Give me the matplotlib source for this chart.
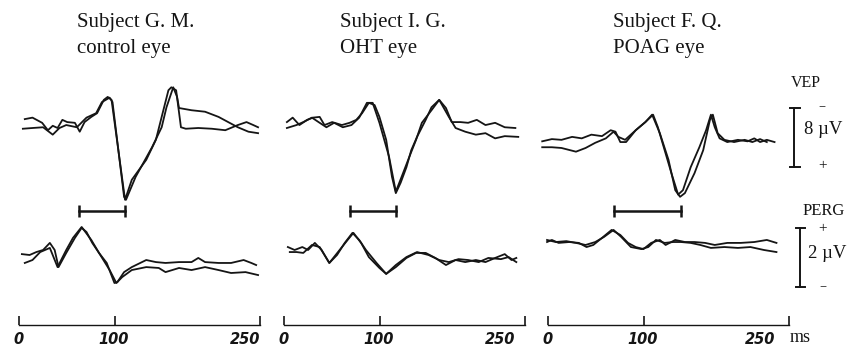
#!/usr/bin/env python3

# VEP and PERG traces for three subjects (two recordings each)
import numpy as np
import matplotlib
matplotlib.use('Agg')
import matplotlib.pyplot as plt

# subject labels
subjects = ['Subject G. M.', 'Subject I. G.', 'Subject F. Q.']
eyes = ['control eye', 'OHT eye', 'POAG eye']

# VEP traces, (ms, uV), negative is up
gm_vep_a = [(6, -1.2), (14, -1.4), (24, -0.7), (30, 0.3), (35, -0.3), (40, 0), (45, -1.1), (50, -0.8),
            (58, -0.7), (63, 0.5), (68, -0.8), (75, -1.5), (81, -2.0), (88, -3.8), (92, -4.2), (96, -3.8),
            (110, 9.7), (117, 7.0), (132, 4.3), (142, 1.6), (148, -1.5), (155, -5.1), (158, -5.5),
            (163, -5.1), (168, -0.1), (173, 0.1), (186, 0), (200, 0.1), (214, 0.3), (227, -0.4),
            (236, -0.8), (243, -0.4), (248, -0.1)]
gm_vep_b = [(4, 0.1), (14, 0), (25, -0.1), (35, 0.9), (42, 0), (49, -0.4), (60, -0.1), (70, -1.4),
            (80, -2.0), (86, -3.5), (94, -4.1), (97, -3.5), (109, 9.3), (111, 9.7), (121, 6.6),
            (138, 2.6), (148, -0.1), (153, -2.8), (160, -5.5), (164, -4.2), (166, -2.7), (179, -2.4),
            (193, -2.2), (207, -1.5), (217, -0.8), (227, -0.1), (238, 0.5), (248, 0.7)]
ig_vep_a = [(3, -0.8), (9, -1.4), (16, -0.4), (24, -1.1), (30, -1.4), (37, -1.5), (42, -0.4), (50, -0.8),
            (60, -0.4), (68, -0.7), (75, -1.1), (81, -2.0), (88, -3.4), (94, -3.1), (99, -1.5),
            (106, 1.6), (112, 6.6), (116, 8.8), (121, 7.4), (127, 5.3), (132, 3.0), (138, 1.2),
            (147, -1.1), (153, -2.8), (161, -3.8), (168, -2.7), (174, -0.8), (183, -0.8), (191, -0.7),
            (200, -1.1), (209, -0.4), (219, -0.7), (229, -0.1), (240, 0)]
ig_vep_b = [(3, 0), (13, -0.4), (20, -0.8), (29, -1.4), (37, -0.7), (44, -0.1), (52, -0.7), (61, -0.1),
            (70, -0.4), (78, -1.4), (86, -3.4), (92, -3.4), (99, -0.7), (109, 3.9), (116, 8.6),
            (122, 6.6), (130, 3.9), (137, 1.6), (143, -0.7), (153, -2.4), (161, -3.8), (171, -1.5),
            (178, 0), (188, 0.5), (199, 0.9), (209, 0.7), (219, 1.4), (229, 1.1), (243, 1.2)]
fq_vep_a = [(-6, 1.8), (4, 1.5), (14, 1.6), (25, 1.2), (35, 1.4), (45, 0.9), (56, 1.1), (65, 0.3),
            (70, 0.5), (75, 1.9), (81, 1.9), (91, 0.3), (101, -0.8), (109, -1.8), (114, -0.1),
            (121, 3.0), (128, 6.1), (135, 9.0), (140, 8.4), (148, 5.3), (157, 2.6), (164, 0.3),
            (169, -1.8), (173, -0.1), (178, 1.4), (186, 1.9), (197, 1.6), (207, 1.8), (214, 1.4),
            (220, 1.9), (227, 1.6), (235, 1.9)]
fq_vep_b = [(-6, 2.6), (4, 2.6), (14, 2.7), (29, 3.2), (39, 2.7), (49, 2.0), (60, 1.4), (68, 0.5),
            (73, 1.2), (80, 1.6), (91, 0.3), (101, -0.8), (108, -1.8), (116, 0.7), (125, 4.3),
            (132, 8.4), (137, 9.3), (142, 8.8), (152, 6.1), (161, 3.0), (168, -1.1), (171, -1.8),
            (176, 0.7), (183, 1.6), (193, 1.9), (204, 1.6), (212, 1.9), (220, 1.5), (227, 1.9)]

# PERG traces, (ms, uV), positive is up
gm_perg_a = [(3, 0.03), (11, 0), (18, 0.1), (25, 0.17), (32, 0.41), (37, 0.17), (41, -0.41), (49, 0.07),
             (58, 0.58), (65, 0.92), (70, 0.78), (76, 0.41), (83, 0.07), (91, -0.27), (99, -0.95),
             (102, -0.92), (109, -0.58), (117, -0.41), (132, -0.17), (142, -0.24), (152, -0.27),
             (166, -0.24), (179, -0.24), (186, -0.10), (193, -0.24), (207, -0.27), (220, -0.27),
             (233, -0.17), (241, -0.27), (246, -0.34)]
gm_perg_b = [(6, -0.27), (14, -0.17), (22, 0.1), (32, 0.24), (40, -0.41), (49, 0.17), (56, 0.58),
             (65, 0.95), (75, 0.51), (83, 0.07), (94, -0.51), (101, -0.95), (107, -0.75), (117, -0.51),
             (132, -0.41), (145, -0.44), (152, -0.58), (166, -0.44), (179, -0.51), (193, -0.41),
             (207, -0.51), (220, -0.61), (235, -0.58), (248, -0.68)]
ig_perg_a = [(4, 0.27), (11, 0.17), (19, 0.27), (25, 0.17), (32, 0.41), (39, 0.17), (47, -0.27), (55, 0),
             (63, 0.41), (71, 0.75), (78, 0.51), (85, 0.17), (96, -0.27), (106, -0.64), (116, -0.41),
             (127, -0.10), (137, 0.07), (147, 0.07), (157, -0.10), (168, -0.34), (178, -0.17),
             (188, -0.24), (199, -0.17), (209, -0.24), (219, -0.10), (229, 0.03), (236, -0.17),
             (241, -0.10)]
ig_perg_b = [(6, 0.10), (13, 0.10), (20, 0.07), (29, 0.34), (37, 0.27), (47, -0.27), (56, 0.10),
             (66, 0.51), (72, 0.75), (80, 0.41), (88, -0.07), (99, -0.44), (106, -0.64), (116, -0.34),
             (127, -0.07), (138, 0.10), (150, 0), (161, -0.17), (171, -0.24), (181, -0.14), (191, -0.17),
             (202, -0.24), (212, -0.10), (225, -0.14), (233, -0.07), (241, -0.24)]
fq_perg_a = [(-1, 0.44), (4, 0.51), (11, 0.41), (22, 0.44), (32, 0.41), (40, 0.27), (47, 0.34),
             (56, 0.58), (66, 0.85), (75, 0.68), (83, 0.41), (91, 0.27), (99, 0.20), (107, 0.41),
             (116, 0.51), (122, 0.34), (132, 0.51), (142, 0.44), (152, 0.44), (163, 0.41), (173, 0.34),
             (186, 0.41), (200, 0.41), (214, 0.44), (227, 0.51), (237, 0.41)]
fq_perg_b = [(-1, 0.51), (8, 0.44), (19, 0.47), (29, 0.41), (39, 0.34), (49, 0.44), (58, 0.61),
             (68, 0.85), (76, 0.61), (86, 0.27), (97, 0.20), (104, 0.27), (112, 0.51), (121, 0.41),
             (130, 0.44), (138, 0.44), (148, 0.41), (158, 0.34), (169, 0.24), (183, 0.27), (197, 0.24),
             (210, 0.27), (224, 0.17), (237, 0.10)]

vep_traces = [(gm_vep_a, gm_vep_b), (ig_vep_a, ig_vep_b), (fq_vep_a, fq_vep_b)]
perg_traces = [(gm_perg_a, gm_perg_b), (ig_perg_a, ig_perg_b), (fq_perg_a, fq_perg_b)]

# retinocortical time bars (ms): PERG P50 -> VEP P100
bar_start = [62, 68, 68]
bar_end = [110, 116, 138]

# time axis
time_ticks = [0, 100, 250]

# scale bars
vep_scale = 8   # uV
perg_scale = 2  # uV


def main():
    W, H = 849, 357
    fig = plt.figure(figsize=(W / 100, H / 100), dpi=100)

    def box(left, top, width, height):
        # pixel box -> figure fraction
        return [left / W, 1 - (top + height) / H, width / W, height / H]

    # layout in pixels
    panel_left = [19, 284, 548]
    title_left = [77, 340, 613]
    panel_w = 241
    vep_top, vep_h = 70, 145
    perg_top, perg_h = 215, 110
    # vertical scales (px per uV) and zero lines (px)
    vep_px, vep_zero = 7.4, 128
    perg_px, perg_zero = 29.5, 255

    serif = ['Liberation Serif', 'DejaVu Serif']
    ink = '#151515'
    vep_axes = []
    perg_axes = []

    for i in range(3):
        x0 = panel_left[i]
        ax_v = fig.add_axes(box(x0, vep_top, panel_w, vep_h))
        ax_p = fig.add_axes(box(x0, perg_top, panel_w, perg_h))
        ax_v.set_xlim(0, 250)
        ax_p.set_xlim(0, 250)
        # VEP: negative up
        ax_v.set_ylim((vep_top + vep_h - vep_zero) / vep_px, (vep_top - vep_zero) / vep_px)
        ax_p.set_ylim((perg_zero - perg_top - perg_h) / perg_px, (perg_zero - perg_top) / perg_px)

        for tr in vep_traces[i]:
            t, v = np.array(tr).T
            ax_v.plot(t, v, color=ink, lw=1.3, clip_on=False)
        for tr in perg_traces[i]:
            t, v = np.array(tr).T
            ax_p.plot(t, v, color=ink, lw=1.3, clip_on=False)

        # latency bar just under the VEP
        ybar = (211 - vep_zero) / vep_px
        ax_v.plot([bar_start[i], bar_end[i]], [ybar, ybar], color=ink, lw=1.8, clip_on=False)
        ax_v.plot([bar_start[i], bar_end[i]], [ybar, ybar], ls='none', marker='|',
                  ms=8, mew=1.8, color=ink, clip_on=False)

        ax_v.axis('off')
        # the PERG axes carries the time bracket at the bottom
        for s in ['left', 'right', 'top']:
            ax_p.spines[s].set_visible(False)
        ax_p.spines['bottom'].set_linewidth(1.0)
        ax_p.spines['bottom'].set_color(ink)
        ax_p.set_yticks([])
        ax_p.set_xticks(time_ticks)
        ax_p.tick_params(axis='x', direction='in', length=6.5, width=1.2, color=ink, labelbottom=False)
        ax_p.patch.set_visible(False)
        ax_v.patch.set_visible(False)

        # tick labels
        lab_x = [0, 98, [235, 224, 220][i]]
        for tx, tl in zip(lab_x, time_ticks):
            ax_p.text(tx, -0.13, str(tl), transform=ax_p.get_xaxis_transform(),
                      ha='center', va='center', fontsize=10.5, fontweight='bold',
                      fontstyle='italic', family='DejaVu Sans', color=ink)

        # titles
        fig.text(title_left[i] / W, 1 - 27 / H, subjects[i], fontsize=15, family=serif,
                 color=ink, va='baseline')
        fig.text(title_left[i] / W, 1 - 53 / H, eyes[i], fontsize=15, family=serif,
                 color=ink, va='baseline')

        vep_axes.append(ax_v)
        perg_axes.append(ax_p)

    # scale bars on the right of the last panel
    ax_v = vep_axes[2]
    ax_p = perg_axes[2]
    sv_x = 255
    sv_top = (108 - vep_zero) / vep_px
    ax_v.plot([sv_x, sv_x], [sv_top, sv_top + vep_scale], color=ink, lw=1.4, clip_on=False)
    for yy in [sv_top, sv_top + vep_scale]:
        ax_v.plot([sv_x - 4, sv_x + 6], [yy, yy], color=ink, lw=1.4, clip_on=False)
    sp_x = 261
    sp_top = (perg_zero - 228) / perg_px
    ax_p.plot([sp_x, sp_x], [sp_top, sp_top - perg_scale], color=ink, lw=1.4, clip_on=False)
    for yy in [sp_top, sp_top - perg_scale]:
        ax_p.plot([sp_x - 4, sp_x + 6], [yy, yy], color=ink, lw=1.4, clip_on=False)

    def ftext(x, y, s, **kw):
        fig.text(x / W, 1 - y / H, s, family=serif, color=ink, va='center', **kw)

    ftext(791, 83, 'VEP', fontsize=11.5)
    ftext(804, 129, f'{vep_scale} µV', fontsize=13.5)
    ftext(822, 108, '−', fontsize=9, ha='center')
    ftext(823, 166, '+', fontsize=11, ha='center')
    ftext(803, 211, 'PERG', fontsize=12)
    ftext(808, 253, f'{perg_scale} µV', fontsize=13.5)
    ftext(823, 229, '+', fontsize=11, ha='center')
    ftext(823, 288, '−', fontsize=9, ha='center')
    ftext(790, 338, 'ms', fontsize=13)

    fig.savefig('out.png', dpi=100)


if __name__ == '__main__':
    main()
